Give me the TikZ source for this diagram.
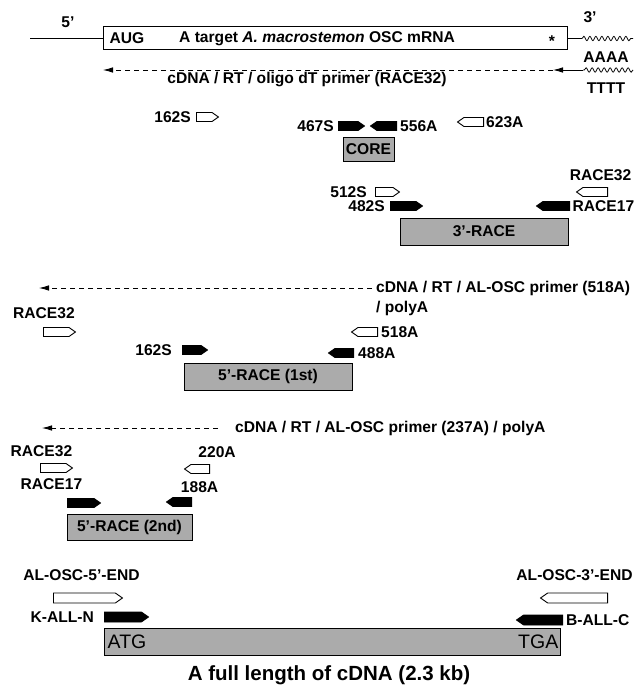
\documentclass[tikz,border=0pt]{standalone}
\usepackage{fontspec}
\setmainfont{Liberation Sans}
\usepackage{tikz}
\usetikzlibrary{shapes.symbols, arrows.meta, positioning, decorations.pathmorphing}
\definecolor{BandGray}{HTML}{ABABAB}

\tikzset{
  lab/.style={font=\fontsize{15.6}{18}\selectfont\bfseries, inner sep=0pt},
  primer/.style={signal, draw=black, line width=0.9pt, inner sep=0pt,
    minimum height=9pt, signal pointer angle=70},
  senseB/.style={primer, signal to=east, fill=black, minimum width=#1, anchor=west},
  senseW/.style={primer, signal to=east, fill=white, minimum width=#1, anchor=west},
  antiB/.style={primer, signal to=west, fill=black, minimum width=#1, anchor=east},
  antiW/.style={primer, signal to=west, fill=white, minimum width=#1, anchor=east},
  band/.style={draw=black, line width=1pt, fill=BandGray, inner sep=0pt,
    font=\fontsize{15.6}{18}\selectfont\bfseries},
  cdna/.style={dash pattern=on 5pt off 4pt, line width=0.8pt,
    -{Latex[length=10pt,width=5.5pt]}},
  polyA/.style={decorate, decoration={snake, amplitude=2.2pt, segment length=6pt},
    line width=0.8pt}
}

\begin{document}
\begin{tikzpicture}[x=1pt, y=-1pt]
  \useasboundingbox (0,0) rectangle (635,685);

  % mRNA
  \node[draw=black, line width=1pt, minimum width=464pt, minimum height=23pt,
        inner sep=0pt] (mrna) at (335,38.5) {};
  \node[lab, anchor=west] (aug) at ([xshift=7pt]mrna.west) {AUG};
  \node[lab, anchor=west] (target) at (179,38.5) {A target \textit{A. macrostemon} OSC mRNA};
  \node[lab] (stop) at (552,41.5) {*};
  \node[lab] (five) at (68,22) {5'};
  \node[lab] (three) at (590,17) {3'};
  \node[lab] (aaaa) at (606,57) {AAAA};
  \node[lab] (tttt) at (606,88) {TTTT};
  \coordinate (m5) at (30,38.5);
  \coordinate (m3a) at (582,38.5);
  \coordinate (m3b) at (633,38.5);
  \draw[line width=0.8pt] (m5) -- (mrna.west);
  \draw[line width=0.8pt] (mrna.east) -- (m3a);
  \draw[polyA] (m3a) -- (m3b);

  \coordinate (dt1) at (633,70);
  \coordinate (dt2) at (583,70);
  \coordinate (dt3) at (553,70);
  \coordinate (dt4) at (103,70);
  \draw[polyA] (dt1) -- (dt2);
  \draw[line width=0.8pt, -{Latex[length=10pt,width=5.5pt]}] (dt2) -- (dt3);
  \draw[cdna] (dt3) -- (dt4);
  \node[lab] (rt32) at (307,80) {cDNA / RT / oligo dT primer (RACE32)};

  % core
  \node[senseW=22pt] (p162S) at (196,117) {};
  \node[lab, left=5pt of p162S] {162S};
  \node[senseB=26pt] (p467S) at (338,126) {};
  \node[lab, left=4pt of p467S] {467S};
  \node[antiB=26pt] (p556A) at (397,126) {};
  \node[lab, right=3pt of p556A] {556A};
  \node[antiW=26pt] (p623A) at (484,122) {};
  \node[lab, right=2pt of p623A] {623A};
  \node[band, minimum width=51pt, minimum height=24pt] (core) at (368.5,149) {CORE};

  % 3'-RACE
  \node[antiW=31pt] (pR32a) at (608,192) {};
  \node[lab, above=6pt of pR32a, xshift=5.3pt] {RACE32};
  \node[antiB=33pt] (pR17a) at (570,206) {};
  \node[lab, right=2.5pt of pR17a] {RACE17};
  \node[senseW=24pt] (p512S) at (375,192) {};
  \node[lab, left=8pt of p512S] {512S};
  \node[senseB=32pt] (p482S) at (390,206) {};
  \node[lab, left=5pt of p482S] {482S};
  \node[band, minimum width=168pt, minimum height=27pt] (race3) at (484,231.5) {3'-RACE};

  % 5'-RACE (1st)
  \node[lab, anchor=west] (rt518) at (376,288) {cDNA / RT / AL-OSC primer (518A)};
  \node[lab, anchor=west] (poly518) at (376,308) {/ polyA};
  \coordinate (tip518) at (39,288);
  \draw[cdna] ([xshift=-4pt]rt518.west) -- (tip518);
  \node[senseW=32pt] (pR32b) at (43,332) {};
  \node[lab, above=8pt of pR32b, xshift=-12.3pt] {RACE32};
  \node[antiW=26pt] (p518A) at (378,332) {};
  \node[lab, right=3pt of p518A] {518A};
  \node[senseB=25pt] (p162Sb) at (182,350) {};
  \node[lab, left=10pt of p162Sb] {162S};
  \node[antiB=25pt] (p488A) at (354,353) {};
  \node[lab, right=4pt of p488A] {488A};
  \node[band, minimum width=168pt, minimum height=27pt] (race5a) at (268,376.5) {5'-RACE (1st)};

  % 5'-RACE (2nd)
  \node[lab, anchor=west] (rt237) at (235,428) {cDNA / RT / AL-OSC primer (237A) / polyA};
  \coordinate (tip237) at (42,428);
  \draw[cdna] ([xshift=-17pt]rt237.west) -- (tip237);
  \node[senseW=32pt] (pR32c) at (40,468) {};
  \node[lab, above=6pt of pR32c, xshift=-11.8pt] {RACE32};
  \node[senseB=33pt] (pR17c) at (67,503) {};
  \node[lab, above=8pt of pR17c, xshift=-29.3pt] {RACE17};
  \node[antiW=25pt] (p220A) at (210,469) {};
  \node[lab, above=6pt of p220A, xshift=16.8pt] {220A};
  \node[antiB=25pt] (p188A) at (192,502) {};
  \node[lab, above=4pt of p188A, xshift=17.3pt] {188A};
  \node[band, minimum width=125pt, minimum height=26pt] (race5b) at (129.5,527) {5'-RACE (2nd)};

  % full length
  \node[senseW=69pt, minimum height=10pt] (pE5) at (53,598) {};
  \node[lab, above=12pt of pE5, xshift=-2.9pt] {AL-OSC-5'-END};
  \node[senseB=44pt, minimum height=10pt] (pKN) at (104,617) {};
  \node[lab, left=10pt of pKN] {K-ALL-N};
  \node[antiW=67pt, minimum height=10pt] (pE3) at (608,598) {};
  \node[lab, above=12pt of pE3, xshift=-3.1pt] {AL-OSC-3'-END};
  \node[antiB=46pt, minimum height=10pt] (pBC) at (563,620) {};
  \node[lab, right=3pt of pBC] {B-ALL-C};
  \node[band, minimum width=456pt, minimum height=27pt] (full) at (332,641.5) {};
  \node[anchor=west, inner sep=0pt, font=\fontsize{19.5}{22}\selectfont] (atg) at ([xshift=4pt]full.west) {ATG};
  \node[anchor=east, inner sep=0pt, font=\fontsize{19.5}{22}\selectfont] (tga) at ([xshift=-2pt]full.east) {TGA};
  \node[font=\fontsize{20.5}{24}\selectfont\bfseries, inner sep=0pt] (caption) at (329,675) {A full length of cDNA (2.3 kb)};
\end{tikzpicture}
\end{document}
